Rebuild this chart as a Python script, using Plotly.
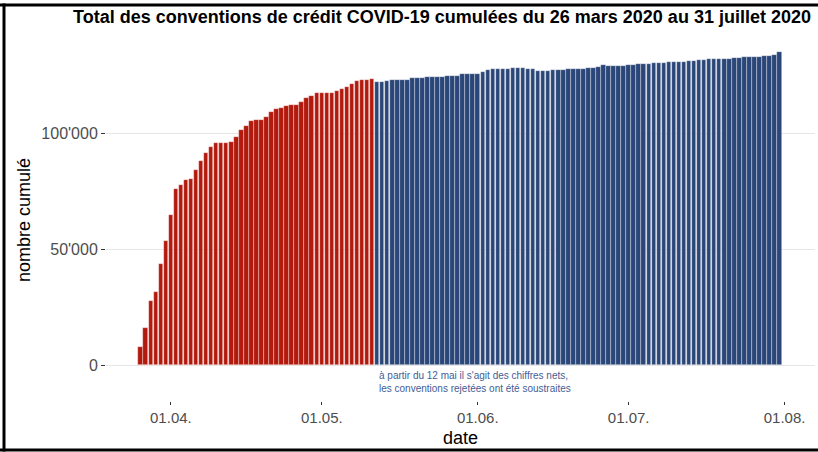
import pandas as pd
import plotly.graph_objects as go

# --- data (thousands) ---
start_date = "2020-03-26"
end_date = "2020-07-31"
split_date = "2020-05-12"  # from this date on: net figures
cumulative_k = [
    7.7, 15.9, 27.8, 31.7, 43.6, 53.7, 64.8, 75.8, 77.9, 79.9,
    80.2, 84.3, 87.9, 91.6, 94.1, 96.0, 96.0, 96.0, 96.2, 98.4,
    101.3, 103.2, 105.4, 105.9, 105.9, 106.9, 109.0, 110.3, 110.8, 112.0,
    112.3, 112.3, 113.4, 115.2, 116.2, 117.2, 117.6, 117.6, 117.6, 118.3,
    119.3, 120.0, 121.2, 122.8, 122.9, 122.9, 123.6, 122.1, 122.1, 122.5,
    123.0, 123.0, 123.0, 123.2, 123.7, 123.7, 123.7, 124.1, 124.1, 124.1,
    124.2, 124.8, 124.8, 124.8, 125.5, 125.8, 125.8, 125.8, 126.5, 127.4,
    127.8, 127.8, 127.8, 127.8, 128.1, 128.4, 128.4, 127.8, 127.6, 127.1,
    127.1, 127.1, 127.2, 127.4, 127.2, 127.6, 127.6, 127.6, 127.9, 128.1,
    128.4, 128.7, 129.3, 128.9, 128.9, 129.0, 129.1, 129.4, 129.6, 129.9,
    129.9, 130.0, 130.2, 130.2, 130.4, 130.6, 130.7, 130.7, 130.6, 131.0,
    131.3, 131.5, 131.6, 131.9, 131.9, 131.9, 131.9, 132.2, 132.5, 132.5,
    132.8, 132.8, 132.8, 133.0, 133.3, 133.5, 133.9, 134.9,
]
x_tick_dates = ["2020-04-01", "2020-05-01", "2020-06-01", "2020-07-01", "2020-08-01"]
x_tick_labels = ["01.04.", "01.05.", "01.06.", "01.07.", "01.08."]
y_tick_vals = [0, 50000, 100000]
y_tick_labels = ["0", "50'000", "100'000"]

title_text = "Total des conventions de crédit COVID-19 cumulées du 26 mars 2020 au 31 juillet 2020"
note_line1 = "à partir du 12 mai il s'agit des chiffres nets,"
note_line2 = "les conventions rejetées ont été soustraites"

RED = "#B31A0E"
BLUE = "#2B4779"

dates = pd.date_range(start_date, end_date, freq="D")
values = [v * 1000 for v in cumulative_k]
df = pd.DataFrame({"date": dates, "n": values})
brut = df[df["date"] < split_date]
net = df[df["date"] >= split_date]

DAY_MS = 86400000
fig = go.Figure()
for part, col, name in [(brut, RED, "brut"), (net, BLUE, "net")]:
    fig.add_trace(go.Bar(
        x=part["date"], y=part["n"], name=name,
        width=0.9 * DAY_MS,
        marker=dict(color=col, line=dict(color="rgba(255,255,255,0.55)", width=0.6)),
        showlegend=False,
    ))

# geometry (pixels)
W, H = 818, 452
ML, MR, MT, MB = 106, 3, 36, 51
pw = W - ML - MR
ph = H - MT - MB


def px_x(px):
    return (px - ML) / pw


def px_y(py):
    return 1 - (py - MT) / ph


font_family = "Liberation Sans, Arial, sans-serif"

fig.update_layout(
    width=W, height=H,
    margin=dict(l=ML, r=MR, t=MT, b=MB, autoexpand=False),
    plot_bgcolor="white", paper_bgcolor="white",
    bargap=0,
    font=dict(family=font_family, color="#4D4D4D"),
    xaxis=dict(
        type="date",
        range=["2020-03-19 02:24", "2020-08-07 01:00"],
        tickvals=x_tick_dates, ticktext=x_tick_labels,
        showgrid=False, zeroline=False, showline=False,
        ticks="outside", ticklen=3, tickcolor="#333333", tickwidth=1,
        tickfont=dict(size=15, color="#4D4D4D"),
    ),
    yaxis=dict(
        range=[-15500, 142000],
        tickvals=y_tick_vals, ticktext=y_tick_labels,
        showgrid=True, gridcolor="#E6E6E6", gridwidth=1,
        zeroline=False, showline=False,
        ticks="outside", ticklen=4, tickcolor="#333333", tickwidth=1,
        tickfont=dict(size=16, color="#4D4D4D"),
    ),
    annotations=[
        dict(text="<b>" + title_text + "</b>", xref="paper", yref="paper",
             x=px_x(442), y=px_y(17), xanchor="center", yanchor="middle",
             showarrow=False, font=dict(size=18, color="black", family=font_family)),
        dict(text="date", xref="paper", yref="paper",
             x=px_x(460), y=px_y(438), xanchor="center", yanchor="middle",
             showarrow=False, font=dict(size=18, color="black", family=font_family)),
        dict(text="nombre cumulé", xref="paper", yref="paper", textangle=-90,
             x=px_x(24), y=px_y(220), xanchor="center", yanchor="middle",
             showarrow=False, font=dict(size=18, color="black", family=font_family)),
        dict(text=note_line1, x=split_date, y=-4300, xref="x", yref="y",
             xanchor="left", yanchor="middle", showarrow=False,
             font=dict(size=10, color="#3F5E96", family=font_family)),
        dict(text=note_line2, x=split_date, y=-9900, xref="x", yref="y",
             xanchor="left", yanchor="middle", showarrow=False,
             font=dict(size=10, color="#3F5E96", family=font_family)),
    ],
    shapes=[
        dict(type="line", xref="paper", yref="paper", x0=px_x(0), x1=px_x(W),
             y0=px_y(5), y1=px_y(5), line=dict(color="black", width=3)),
        dict(type="line", xref="paper", yref="paper", x0=px_x(0), x1=px_x(W),
             y0=px_y(450), y1=px_y(450), line=dict(color="black", width=3)),
        dict(type="line", xref="paper", yref="paper", x0=px_x(4), x1=px_x(4),
             y0=px_y(3.5), y1=px_y(451.5), line=dict(color="black", width=3)),
    ],
)

fig.write_html("out.html",
               config={"displayModeBar": False},
               post_script="document.body.style.margin='0';document.body.style.overflow='hidden';")
